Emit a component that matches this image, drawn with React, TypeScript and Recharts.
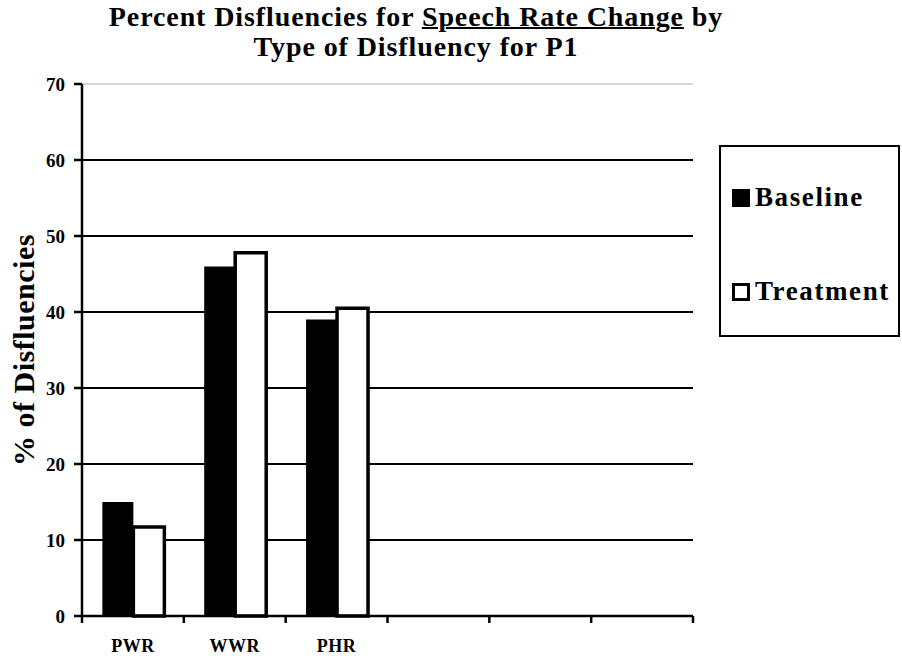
import * as React from "react";
import {
  BarChart,
  Bar,
  XAxis,
  YAxis,
  CartesianGrid,
  ReferenceLine,
} from "recharts";

const categories = ["PWR", "WWR", "PHR", "-4", "-5", "-6"];
const tickLabels = ["PWR", "WWR", "PHR", "", "", ""];
const baseline = [15, 46, 39, null, null, null];
const treatment = [11.7, 47.8, 40.5, null, null, null];
const yTicks = [0, 10, 20, 30, 40, 50, 60, 70];
const gridValues = [10, 20, 30, 40, 50, 60];

const FONT = "'Liberation Serif', 'Times New Roman', serif";
const W = 902;
const H = 664;

const data = categories.map((c, i) => ({
  id: c,
  baseline: baseline[i],
  treatment: treatment[i],
}));

// x tick: label at band centre, tick marks on band edges
function XTick(props: any) {
  const { x, y, payload, index } = props;
  const half = payload?.offset ?? 51;
  const last = index === categories.length - 1;
  return (
    <g>
      <line x1={x - half} x2={x - half} y1={y} y2={y + 7} stroke="#000" strokeWidth={2.5} />
      {last && (
        <line x1={x + half} x2={x + half} y1={y} y2={y + 7} stroke="#000" strokeWidth={2.5} />
      )}
      <text
        x={x}
        y={y + 36}
        textAnchor="middle"
        fontFamily={FONT}
        fontWeight="bold"
        fontSize={18}
        letterSpacing={0.5}
        fill="#000"
      >
        {tickLabels[index]}
      </text>
    </g>
  );
}

function LegendBox() {
  const row: React.CSSProperties = {
    display: "flex",
    alignItems: "center",
    fontFamily: FONT,
    fontWeight: "bold",
    fontSize: 27,
    color: "#000",
    letterSpacing: 1.6,
    whiteSpace: "nowrap",
  };
  return (
    <div
      style={{
        position: "absolute",
        left: 719,
        top: 145,
        width: 177,
        height: 188,
        border: "2px solid #000",
        background: "#fff",
      }}
    >
      <div style={{ ...row, position: "absolute", left: 11, top: 35 }}>
        <span style={{ width: 18, height: 18, background: "#000", display: "inline-block", marginRight: 5 }} />
        Baseline
      </div>
      <div style={{ ...row, position: "absolute", left: 11, top: 129 }}>
        <span
          style={{
            width: 12,
            height: 12,
            border: "3px solid #000",
            background: "#fff",
            display: "inline-block",
            marginRight: 5,
          }}
        />
        Treatment
      </div>
    </div>
  );
}

export default function App() {
  return (
    <div style={{ position: "absolute", left: 0, top: 0, width: W, height: H, background: "#fff" }}>
      <BarChart
        width={W}
        height={H}
        data={data}
        margin={{ top: 84, right: 209, bottom: 8, left: 0 }}
        barGap={0}
        barCategoryGap="20%"
      >
        <CartesianGrid
          vertical={false}
          horizontalValues={gridValues}
          stroke="#000"
          strokeWidth={2}
          strokeOpacity={1}
        />
        <ReferenceLine y={70} stroke="#c8c8c8" strokeWidth={1.5} />
        <XAxis
          dataKey="id"
          type="category"
          height={40}
          interval={0}
          tickLine={false}
          tickSize={0}
          tickMargin={0}
          axisLine={{ stroke: "#000", strokeWidth: 2.5 }}
          tick={<XTick />}
        />
        <YAxis
          width={82}
          domain={[0, 70]}
          ticks={yTicks}
          interval={0}
          tickSize={8}
          tickMargin={9}
          axisLine={{ stroke: "#000", strokeWidth: 2.5 }}
          tickLine={{ stroke: "#000", strokeWidth: 2.5 }}
          tick={{ fontFamily: FONT, fontWeight: "bold", fontSize: 19, fill: "#000" }}
          label={{
            content: (p: any) => {
              const vb = p.viewBox || { y: 84, height: 532 };
              const cy = vb.y + vb.height / 2;
              return (
                <text
                  x={0}
                  y={0}
                  transform={`translate(34, ${cy}) rotate(-90)`}
                  textAnchor="middle"
                  fontFamily={FONT}
                  fontWeight="bold"
                  fontSize={30}
                  letterSpacing={0.5}
                  fill="#000"
                >
                  % of Disfluencies
                </text>
              );
            },
          }}
        />
        <Bar dataKey="baseline" name="Baseline" fill="#000" isAnimationActive={false} />
        <Bar
          dataKey="treatment"
          name="Treatment"
          fill="#fff"
          stroke="#000"
          strokeWidth={3.5}
          isAnimationActive={false}
        />
      </BarChart>
      <div
        style={{
          position: "absolute",
          left: 0,
          top: 2,
          width: 832,
          textAlign: "center",
          fontFamily: FONT,
          fontWeight: "bold",
          fontSize: 28,
          lineHeight: "30px",
          letterSpacing: 0.9,
          color: "#000",
        }}
      >
        Percent Disfluencies for{" "}
        <span style={{ textDecoration: "underline", textDecorationThickness: 2 }}>Speech Rate Change</span> by
        <br />
        Type of Disfluency for P1
      </div>
      <LegendBox />
    </div>
  );
}
